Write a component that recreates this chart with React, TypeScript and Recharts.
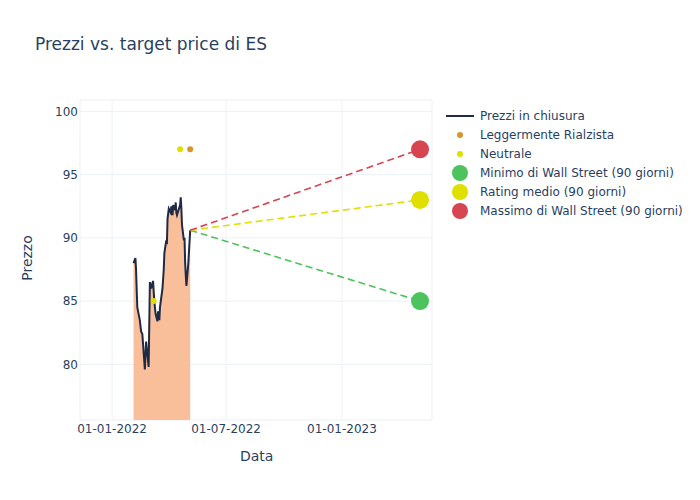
import React from "react";
import {
  Area,
  CartesianGrid,
  ComposedChart,
  Line,
  Scatter,
  XAxis,
  YAxis,
} from "recharts";

// closing prices
const priceDates = [
  "2022-02-04", "2022-02-07", "2022-02-08", "2022-02-10", "2022-02-14", "2022-02-16",
  "2022-02-18", "2022-02-22", "2022-02-24", "2022-02-28", "2022-03-02", "2022-03-04",
  "2022-03-07", "2022-03-09", "2022-03-11", "2022-03-14", "2022-03-15", "2022-03-17",
  "2022-03-18", "2022-03-22", "2022-03-24", "2022-03-25", "2022-03-28", "2022-03-29",
  "2022-03-30", "2022-04-01", "2022-04-04", "2022-04-05", "2022-04-07", "2022-04-08",
  "2022-04-11", "2022-04-12", "2022-04-13", "2022-04-14", "2022-04-19", "2022-04-20",
  "2022-04-21", "2022-04-22", "2022-04-25", "2022-04-26", "2022-04-27", "2022-04-28",
  "2022-04-29", "2022-05-02", "2022-05-05",
];
const priceValues = [
  88.0, 88.4, 87.5, 84.5, 83.5, 82.6,
  82.4, 79.6, 81.8, 79.8, 86.5, 86.0,
  86.6, 85.0, 84.0, 83.4, 84.2, 83.5,
  84.5, 86.0, 87.5, 88.8, 89.8, 89.5,
  91.5, 92.3, 92.0, 92.5, 91.8, 92.6,
  92.2, 92.8, 92.0, 91.8, 92.6, 93.2,
  92.3, 91.0, 89.8, 90.0, 88.0, 87.0,
  86.2, 88.0, 90.6,
];

// analyst ratings
const leggermenteDates = ["2022-05-05"];
const leggermenteValues = [97];
const neutraleDates = ["2022-03-08", "2022-04-19"];
const neutraleValues = [85, 97];

// targets (90 days)
const targetStart = "2022-05-05";
const targetEnd = "2023-05-05";
const lastPrice = 90.6;
const targetMin = 85;
const targetMedio = 93;
const targetMax = 97;

const xTickDates = ["2022-01-01", "2022-07-01", "2023-01-01"];
const yTicks = [80, 85, 90, 95, 100];

const ts = (d: string) => Date.parse(d);
const pts = (dates: string[], vals: number[]) => dates.map((d, i) => ({ t: ts(d), y: vals[i] }));

const priceData = pts(priceDates, priceValues);
const leggermenteData = pts(leggermenteDates, leggermenteValues);
const neutraleData = pts(neutraleDates, neutraleValues);
const minLine = pts([targetStart, targetEnd], [lastPrice, targetMin]);
const medioLine = pts([targetStart, targetEnd], [lastPrice, targetMedio]);
const maxLine = pts([targetStart, targetEnd], [lastPrice, targetMax]);

const TEXT = "#2a3f5f";
const GRID = "#ebf0f8";
const C_LINE = "#1f2a44";
const C_FILL = "#f9bf9b";
const C_ORANGE = "#d9952b";
const C_YELLOW = "#dfdf00";
const C_GREEN = "#4cc35c";
const C_RED = "#d64550";

const fmtDate = (v: number) => {
  const d = new Date(v);
  const dd = String(d.getUTCDate()).padStart(2, "0");
  const mm = String(d.getUTCMonth() + 1).padStart(2, "0");
  return `${dd}-${mm}-${d.getUTCFullYear()}`;
};

const dot = (r: number, fill: string) => (props: any) =>
  <circle cx={props.cx} cy={props.cy} r={r} fill={fill} />;

const legendItems = [
  { label: "Prezzi in chiusura", kind: "line", color: C_LINE },
  { label: "Leggermente Rialzista", kind: "small", color: C_ORANGE },
  { label: "Neutrale", kind: "small", color: C_YELLOW },
  { label: "Minimo di Wall Street (90 giorni)", kind: "big", color: C_GREEN },
  { label: "Rating medio (90 giorni)", kind: "big", color: C_YELLOW },
  { label: "Massimo di Wall Street (90 giorni)", kind: "big", color: C_RED },
];

export default function App() {
  return (
    <div
      style={{
        position: "absolute",
        left: 0,
        top: 0,
        width: 700,
        height: 500,
        background: "#fff",
        fontFamily: "'DejaVu Sans', sans-serif",
        color: TEXT,
      }}
    >
      <div style={{ position: "absolute", left: 35, top: 34, fontSize: 17, whiteSpace: "nowrap" }}>
        Prezzi vs. target price di ES
      </div>
      <div style={{ position: "absolute", left: 240, top: 448, fontSize: 14 }}>Data</div>
      <div
        style={{
          position: "absolute",
          left: 27,
          top: 258,
          fontSize: 14,
          transform: "translate(-50%, -50%) rotate(-90deg)",
        }}
      >
        Prezzo
      </div>

      <ComposedChart
        width={700}
        height={500}
        margin={{ top: 100, right: 268, bottom: 50, left: 30 }}
      >
        <CartesianGrid stroke={GRID} strokeWidth={1} />
        <XAxis
          dataKey="t"
          type="number"
          domain={[Date.UTC(2021, 10, 11), Date.UTC(2023, 4, 24)]}
          ticks={xTickDates.map(ts)}
          tickFormatter={fmtDate}
          tick={{ fill: TEXT, fontSize: 12 }}
          tickLine={false}
          axisLine={false}
          tickSize={0}
          tickMargin={4}
          height={30}
          allowDataOverflow
        />
        <YAxis
          dataKey="y"
          type="number"
          domain={[75.6, 100.9]}
          ticks={yTicks}
          tick={{ fill: TEXT, fontSize: 12 }}
          tickLine={false}
          axisLine={false}
          tickSize={0}
          tickMargin={2}
          width={50}
          allowDataOverflow
        />
        <Area
          data={priceData}
          dataKey="y"
          type="linear"
          stroke={C_LINE}
          strokeWidth={2}
          fill={C_FILL}
          fillOpacity={1}
          isAnimationActive={false}
          dot={false}
          activeDot={false}
        />
        <Line data={minLine} dataKey="y" stroke={C_GREEN} strokeWidth={1.6} strokeDasharray="7 4" dot={false} isAnimationActive={false} />
        <Line data={medioLine} dataKey="y" stroke={C_YELLOW} strokeWidth={1.6} strokeDasharray="7 4" dot={false} isAnimationActive={false} />
        <Line data={maxLine} dataKey="y" stroke={C_RED} strokeWidth={1.6} strokeDasharray="7 4" dot={false} isAnimationActive={false} />
        <Scatter data={leggermenteData} dataKey="y" shape={dot(3, C_ORANGE)} isAnimationActive={false} />
        <Scatter data={neutraleData} dataKey="y" shape={dot(3, C_YELLOW)} isAnimationActive={false} />
        <Scatter data={[minLine[1]]} dataKey="y" shape={dot(9, C_GREEN)} isAnimationActive={false} />
        <Scatter data={[medioLine[1]]} dataKey="y" shape={dot(9, C_YELLOW)} isAnimationActive={false} />
        <Scatter data={[maxLine[1]]} dataKey="y" shape={dot(9, C_RED)} isAnimationActive={false} />
      </ComposedChart>

      <div style={{ position: "absolute", left: 446, top: 106 }}>
        {legendItems.map((it) => (
          <div key={it.label} style={{ display: "flex", alignItems: "center", height: 19, fontSize: 12, whiteSpace: "nowrap" }}>
            <svg width={34} height={18} style={{ flex: "none" }}>
              {it.kind === "line" ? (
                <line x1={0} y1={9} x2={28} y2={9} stroke={it.color} strokeWidth={2} />
              ) : (
                <circle cx={14} cy={9} r={it.kind === "big" ? 8 : 3} fill={it.color} />
              )}
            </svg>
            <span>{it.label}</span>
          </div>
        ))}
      </div>
    </div>
  );
}
